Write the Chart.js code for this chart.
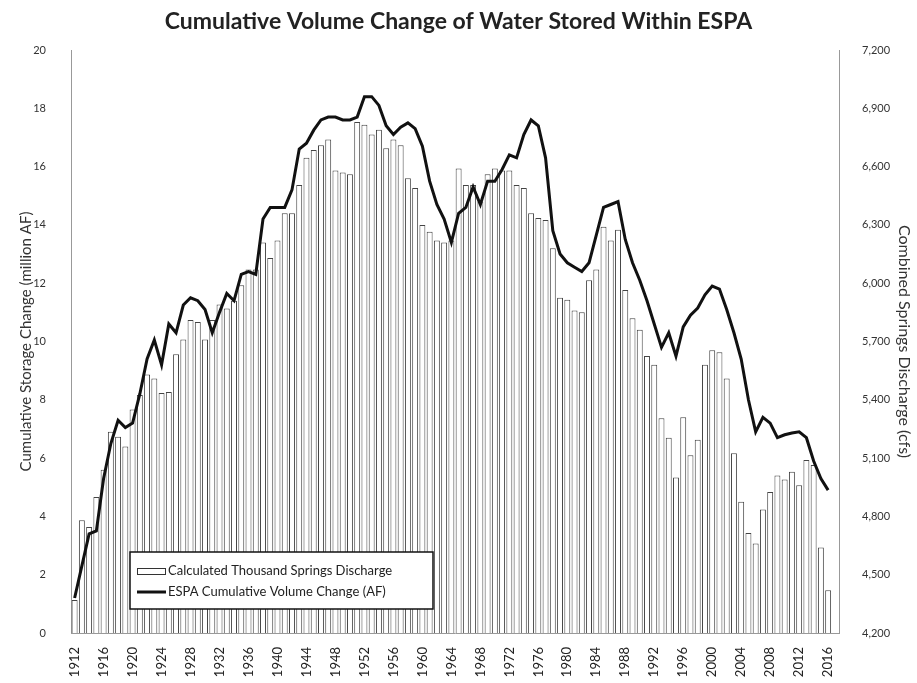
<!DOCTYPE html>
<html><head><meta charset="utf-8">
<script src="https://cdn.jsdelivr.net/npm/chart.js@4"></script>
<style>html,body{margin:0;padding:0;background:#fff}#wrap{width:917px;height:683px}</style>
</head><body><div id="wrap"><canvas id="c" width="917" height="683"></canvas></div>
<script>
const years = [];
for (let y = 1912; y <= 2017; y++) years.push(y);

const xTickLabels = ['1912','1916','1920','1924','1928','1932','1936','1940','1944','1948','1952','1956','1960','1964','1968','1972','1976','1980','1984','1988','1992','1996','2000','2004','2008','2012','2016'];

// Calculated Thousand Springs Discharge (cfs), right axis, 1912-2017
const discharge = [
 4370,4780,4745,4900,5040,5235,5210,5160,5350,5425,
 5530,5510,5435,5440,5635,5710,5810,5800,5710,5810,
 5890,5870,5910,5990,6070,6070,6210,6130,6220,6360,
 6360,6505,6645,6685,6710,6740,6580,6570,6560,6830,
 6815,6765,6790,6695,6740,6710,6540,6490,6300,6265,
 6220,6210,6220,6590,6505,6505,6420,6560,6590,6580,
 6580,6505,6490,6360,6335,6325,6180,5925,5915,5860,
 5850,6015,6070,6290,6220,6275,5965,5820,5760,5625,
 5580,5305,5205,5000,5310,5115,5195,5580,5655,5645,
 5510,5125,4875,4715,4660,4835,4925,5010,4990,5030,
 4960,5090,5065,4640,4420,null
];

// ESPA Cumulative Volume Change (million AF), left axis, 1912-2017
const storage = [
 1.2,2.3,3.4,3.5,5.3,6.5,7.3,7.05,7.2,8.2,
 9.4,10.05,9.2,10.6,10.3,11.25,11.5,11.4,11.1,10.3,
 11.0,11.65,11.4,12.3,12.4,12.3,14.2,14.6,14.6,14.6,
 15.2,16.6,16.8,17.25,17.6,17.7,17.7,17.6,17.6,17.7,
 18.4,18.4,18.1,17.4,17.1,17.35,17.5,17.3,16.7,15.5,
 14.7,14.2,13.4,14.4,14.6,15.3,14.7,15.5,15.5,15.9,
 16.4,16.3,17.1,17.6,17.4,16.3,13.8,13.0,12.7,12.55,
 12.4,12.7,13.65,14.6,14.7,14.8,13.5,12.7,12.1,11.4,
 10.6,9.8,10.3,9.5,10.5,10.9,11.15,11.6,11.9,11.8,
 11.1,10.3,9.4,8.0,6.9,7.4,7.2,6.7,6.8,6.86,
 6.9,6.7,5.9,5.3,4.9,null
];

const FONT = 'Lato';

const insideLegend = {
  id: 'insideLegend',
  afterDraw(chart) {
    const ctx = chart.ctx;
    const x = 130, y = 552, w = 303, h = 57;
    ctx.save();
    ctx.fillStyle = '#fff';
    ctx.fillRect(x, y, w, h);
    ctx.strokeStyle = '#111';
    ctx.lineWidth = 1.5;
    ctx.strokeRect(x, y, w, h);
    const ds = chart.data.datasets;
    const bar = ds.find(d => d.type === 'bar');
    const line = ds.find(d => d.type === 'line');
    ctx.font = '13px ' + FONT;
    ctx.textBaseline = 'middle';
    ctx.fillStyle = '#fff';
    ctx.fillRect(137, 568, 28, 6);
    ctx.strokeStyle = '#333';
    ctx.lineWidth = 1;
    ctx.strokeRect(137.5, 568.5, 28, 6);
    ctx.fillStyle = '#222';
    ctx.fillText(bar.label, 168, 571);
    ctx.strokeStyle = '#111';
    ctx.lineWidth = 3;
    ctx.beginPath();
    ctx.moveTo(137, 592); ctx.lineTo(166, 592);
    ctx.stroke();
    ctx.fillText(line.label, 168, 592);
    ctx.restore();
  }
};

new Chart(document.getElementById('c'), {
  type: 'bar',
  data: {
    labels: years.map(String),
    datasets: [
      {
        type: 'line',
        label: 'ESPA Cumulative Volume Change (AF)',
        data: storage,
        yAxisID: 'yL',
        borderColor: '#111',
        backgroundColor: '#111',
        borderWidth: 3,
        pointRadius: 0,
        tension: 0,
        order: 0
      },
      {
        type: 'bar',
        label: 'Calculated Thousand Springs Discharge',
        data: discharge,
        yAxisID: 'yR',
        backgroundColor: '#fff',
        borderColor: '#444',
        borderWidth: 1,
        categoryPercentage: 0.82,
        barPercentage: 1,
        order: 1
      }
    ]
  },
  options: {
    responsive: false,
    animation: false,
    devicePixelRatio: 1,
    layout: { padding: 0 },
    plugins: {
      legend: { display: false },
      tooltip: { enabled: false },
      title: {
        display: true,
        text: 'Cumulative Volume Change of Water Stored Within ESPA',
        font: { family: FONT, size: 23, weight: 'bold' },
        color: '#222',
        padding: { top: 8, bottom: 14.4 }
      }
    },
    scales: {
      x: {
        grid: { display: false },
        border: { display: true, color: '#999', dash: [2, 2] },
        ticks: {
          autoSkip: false, maxRotation: 90, minRotation: 90,
          font: { family: FONT, size: 13 }, color: '#222', padding: 6,
          callback: function (v, i) { const l = this.getLabelForValue(v); return xTickLabels.includes(l) ? l : ''; }
        },
        afterFit(s) { s.height = 50; }
      },
      yL: {
        position: 'left', min: 0, max: 20,
        grid: { display: false },
        border: { display: true, color: '#999', dash: [2, 3] },
        ticks: { stepSize: 2, font: { family: FONT, size: 11 }, color: '#333', padding: 17 },
        title: { display: true, text: 'Cumulative Storage Change (million AF)', font: { family: FONT, size: 15 }, color: '#333', padding: { top: 17, bottom: 0 } },
        afterFit(s) { s.width = 71; }
      },
      yR: {
        position: 'right', min: 4200, max: 7200,
        grid: { display: false },
        border: { display: true, color: '#999', dash: [2, 3] },
        ticks: { stepSize: 300, font: { family: FONT, size: 11 }, color: '#333', padding: 15,
          callback: v => v.toLocaleString('en-US') },
        title: { display: true, text: 'Combined Springs Discharge (cfs)', font: { family: FONT, size: 16 }, color: '#333', padding: { top: 3, bottom: 0 } },
        afterFit(s) { s.width = 78; }
      }
    }
  },
  plugins: [insideLegend]
});
</script>
</body></html>
